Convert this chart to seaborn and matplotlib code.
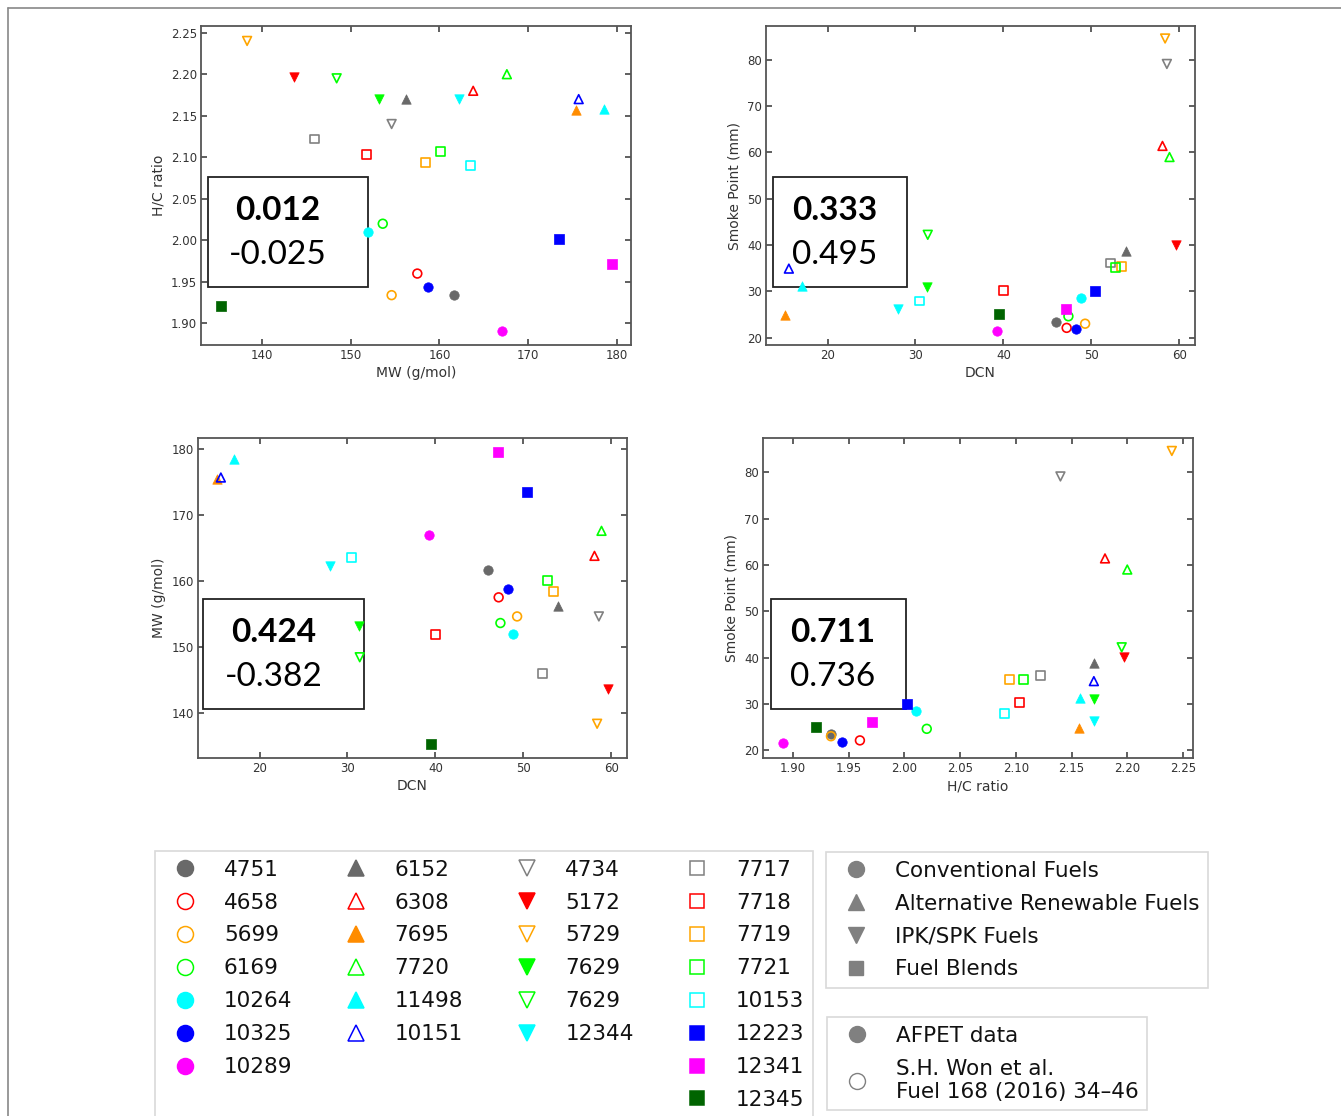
import pandas as pd
import matplotlib
matplotlib.use("Agg")
import matplotlib.pyplot as plt
from matplotlib.lines import Line2D
from matplotlib.patches import Rectangle
import seaborn as sns

# Fuel properties
fuel_labels = ['4751', '4658', '5699', '6169', '10264', '10325', '10289',
               '6152', '6308', '7695', '7720', '11498', '10151',
               '4734', '5172', '5729', '7629', '7629', '12344',
               '7717', '7718', '7719', '7721', '10153', '12223', '12341', '12345']
mw = [161.6, 157.5, 154.6, 153.6, 151.9, 158.7, 167.0,
      156.2, 163.8, 175.4, 167.6, 178.5, 175.7,
      154.6, 143.6, 138.3, 153.2, 148.4, 162.2,
      145.9, 151.8, 158.4, 160.1, 163.5, 173.5, 179.5, 135.3]
hc_ratio = [1.934, 1.960, 1.934, 2.020, 2.010, 1.944, 1.891,
            2.170, 2.180, 2.157, 2.200, 2.158, 2.170,
            2.140, 2.197, 2.240, 2.170, 2.195, 2.170,
            2.122, 2.103, 2.094, 2.107, 2.090, 2.002, 1.971, 1.921]
dcn = [46.0, 47.2, 49.3, 47.4, 48.8, 48.3, 39.3,
       54.0, 58.1, 15.2, 58.9, 17.1, 15.6,
       58.6, 59.6, 58.4, 31.3, 31.4, 28.0,
       52.2, 40.0, 53.4, 52.8, 30.5, 50.4, 47.1, 39.5]
smoke_point = [23.4, 22.1, 23.0, 24.6, 28.5, 21.8, 21.5,
               38.8, 61.4, 24.8, 59.0, 31.2, 34.9,
               79.1, 40.1, 84.6, 31.0, 42.2, 26.2,
               36.1, 30.2, 35.3, 35.2, 27.9, 30.0, 26.1, 25.0]

# correlation values shown in the boxes (bold, normal)
corr_bold = ['0.012', '0.333', '0.424', '0.711']
corr_norm = ['-0.025', '0.495', '-0.382', '0.736']

class_labels = ['Conventional Fuels', 'Alternative Renewable Fuels',
                'IPK/SPK Fuels', 'Fuel Blends']
source_labels = ['AFPET data', 'S.H. Won et al.\nFuel 168 (2016) 34\u201346']

# styles per fuel
shapes = ['o'] * 7 + ['^'] * 6 + ['v'] * 6 + ['s'] * 8
colors = ['dimgray', 'red', 'orange', 'lime', 'cyan', 'blue', 'magenta',
          'dimgray', 'red', 'darkorange', 'lime', 'cyan', 'blue',
          'gray', 'red', 'orange', 'lime', 'lime', 'cyan',
          'gray', 'red', 'orange', 'lime', 'cyan', 'blue', 'magenta', 'darkgreen']
filled = [True, False, False, False, True, True, True,
          True, False, True, False, True, False,
          False, True, False, True, False, True,
          False, False, False, False, False, True, True, True]

df = pd.DataFrame({'fuel': fuel_labels, 'MW': mw, 'HC': hc_ratio,
                   'DCN': dcn, 'SP': smoke_point})
df['idx'] = range(len(df))

sns.set_theme(style="ticks")
plt.rcParams['font.family'] = ['DejaVu Sans']

W, H = 1341, 1116
fig = plt.figure(figsize=(W / 100, H / 100), dpi=100)


def add_ax(left, top, right, bottom):
    return fig.add_axes([left / W, 1 - bottom / H, (right - left) / W, (bottom - top) / H])


panels = [
    dict(px=(201, 26, 631, 345), x='MW', y='HC', xlabel='MW (g/mol)', ylabel='H/C ratio',
         xlim=(133.1, 181.6), ylim=(1.874, 2.258), xt=[140, 150, 160, 170, 180],
         yt=[1.90, 1.95, 2.00, 2.05, 2.10, 2.15, 2.20, 2.25], yfmt='%.2f',
         box=(0.016, 0.183, 0.373, 0.345), tx=(0.179, 0.423, 0.282)),
    dict(px=(766, 26, 1195, 345), x='DCN', y='SP', xlabel='DCN', ylabel='Smoke Point (mm)',
         xlim=(13.0, 61.8), ylim=(18.4, 87.3), xt=[20, 30, 40, 50, 60],
         yt=[20, 30, 40, 50, 60, 70, 80], yfmt='%d',
         box=(0.016, 0.183, 0.312, 0.345), tx=(0.161, 0.423, 0.282)),
    dict(px=(198, 438, 627, 758), x='DCN', y='MW', xlabel='DCN', ylabel='MW (g/mol)',
         xlim=(13.0, 61.8), ylim=(133.1, 181.7), xt=[20, 30, 40, 50, 60],
         yt=[140, 150, 160, 170, 180], yfmt='%d',
         box=(0.012, 0.152, 0.376, 0.344), tx=(0.177, 0.393, 0.252)),
    dict(px=(763, 438, 1193, 758), x='HC', y='SP', xlabel='H/C ratio', ylabel='Smoke Point (mm)',
         xlim=(1.873, 2.259), ylim=(18.3, 87.4), xt=[1.90, 1.95, 2.00, 2.05, 2.10, 2.15, 2.20, 2.25],
         yt=[20, 30, 40, 50, 60, 70, 80], yfmt='%d', xfmt='%.2f',
         box=(0.018, 0.152, 0.314, 0.344), tx=(0.161, 0.393, 0.252)),
]

for k, p in enumerate(panels):
    ax = add_ax(*p['px'])
    for i in df['idx']:
        sub = df[df['idx'] == i]
        if filled[i]:
            sns.scatterplot(data=sub, x=p['x'], y=p['y'], ax=ax, marker=shapes[i], s=46,
                            facecolor=colors[i], edgecolor=colors[i], linewidth=0.5, zorder=3)
        else:
            sns.scatterplot(data=sub, x=p['x'], y=p['y'], ax=ax, marker=shapes[i], s=40,
                            facecolor='none', edgecolor=colors[i], linewidth=1.2, zorder=3)
    bx, by, bw, bh = p['box']
    ax.add_patch(Rectangle((bx, by), bw, bh, transform=ax.transAxes, facecolor='white',
                           edgecolor='#222222', linewidth=1.3, zorder=1))
    tx, ty1, ty2 = p['tx']
    ax.text(tx, ty1, corr_bold[k], transform=ax.transAxes, ha='center', va='center',
            fontsize=24, fontweight='bold', color='black',
            family=['Lato', 'DejaVu Sans'], zorder=2)
    ax.text(tx, ty2, corr_norm[k], transform=ax.transAxes, ha='center', va='center',
            fontsize=24, color='black', family=['Lato', 'DejaVu Sans'], zorder=2)
    ax.set_xlim(p['xlim'])
    ax.set_ylim(p['ylim'])
    ax.set_xticks(p['xt'])
    ax.set_yticks(p['yt'])
    ax.set_yticklabels([p['yfmt'] % v for v in p['yt']])
    if 'xfmt' in p:
        ax.set_xticklabels([p['xfmt'] % v for v in p['xt']])
    ax.set_xlabel(p['xlabel'], fontsize=10, color='#333333', labelpad=3)
    ax.set_ylabel(p['ylabel'], fontsize=10, color='#333333', labelpad=4)
    ax.tick_params(direction='in', top=True, right=True, length=4, width=1.2,
                   color='#444444', labelsize=8.5, labelcolor='#333333', pad=3)
    for sp in ax.spines.values():
        sp.set_color('#555555')
        sp.set_linewidth(1.3)
        sp.set_visible(True)
    if ax.get_legend():
        ax.get_legend().remove()

# legend of individual fuels, 4 columns with padding blanks
blank = Line2D([], [], linestyle='none', marker=None)
handles, labels = [], []
for i in range(len(fuel_labels)):
    handles.append(Line2D([0], [0], marker=shapes[i], linestyle='none',
                          markersize=10.5 if shapes[i] == 's' else 11.5,
                          markerfacecolor=colors[i] if filled[i] else 'none',
                          markeredgecolor=colors[i], markeredgewidth=1.1))
    labels.append(fuel_labels[i])
    if i == 6:
        handles += [blank]; labels += ['']
    if i in (12, 18):
        handles += [blank, blank]; labels += ['', '']

leg_kw = dict(frameon=True, fancybox=False, edgecolor='#d0d0d0', fontsize=15.5,
              borderaxespad=0, labelspacing=0.6, loc='upper left', labelcolor='#111111')
leg1 = fig.legend(handles, labels, ncol=4, columnspacing=1.95,
                  bbox_to_anchor=(155 / W, 1 - 851 / H), **leg_kw)
leg1.get_frame().set_linewidth(1.2)

cls_handles = [Line2D([0], [0], marker=m, linestyle='none',
                      markersize=10.5 if m == 's' else 11.5,
                      markerfacecolor='#808080', markeredgecolor='#808080')
               for m in ['o', '^', 'v', 's']]
leg2 = fig.legend(cls_handles, class_labels, bbox_to_anchor=(826 / W, 1 - 852 / H), **leg_kw)
leg2.get_frame().set_linewidth(1.2)

src_handles = [Line2D([0], [0], marker='o', linestyle='none', markersize=11.5,
                      markerfacecolor='#808080', markeredgecolor='#808080'),
               Line2D([0], [0], marker='o', linestyle='none', markersize=11.5,
                      markerfacecolor='none', markeredgecolor='#808080', markeredgewidth=1.0)]
leg3 = fig.legend(src_handles, source_labels, bbox_to_anchor=(827 / W, 1 - 1017 / H), **leg_kw)
leg3.get_frame().set_linewidth(1.2)

# page border lines
fig.add_artist(Line2D([8 / W, 1], [1 - 8 / H, 1 - 8 / H], color='#888888', linewidth=1.2))
fig.add_artist(Line2D([8 / W, 8 / W], [0, 1 - 8 / H], color='#888888', linewidth=1.2))

fig.savefig('out.png', dpi=100)
